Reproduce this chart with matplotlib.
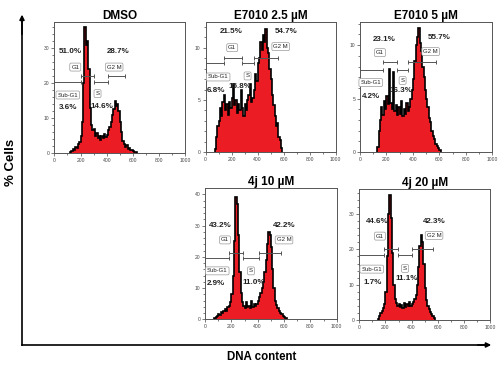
import matplotlib.pyplot as plt
import numpy as np
from matplotlib.ticker import MultipleLocator

plt.rcParams['font.family'] = ['Liberation Sans', 'DejaVu Sans']

bin_width = 10

# histogram counts per 10-channel bin, starting at the given channel
dmso_start = 120
dmso_counts = [0.3, 0.6, 1.2, 0.8, 1.8, 1.5, 2.6, 3.2, 5, 9, 20, 36, 31, 32, 24, 13,
               8, 6.5, 7, 5, 5.8, 4.2, 4.8, 3.8, 5, 4.4, 5.5, 4.6, 5.2, 6.5, 7.5, 9,
               11, 12.5, 15, 13.5, 14, 12, 9, 6, 3.5, 2.5, 1.8, 2.2, 1.2, 1.5, 0.8,
               0.9, 0.5, 0.3, 0.2]

e25_start = 70
e25_counts = [0.3, 1.5, 2.5, 3, 4.2, 3.5, 4.8, 5.5, 4, 4.6, 3.6, 4.8, 4.2, 5.2, 6.5,
              4.5, 5, 3.8, 4.6, 4, 6, 4.2, 3.5, 4.6, 4, 5, 5.5, 6.5, 4.8, 5.2, 6,
              7.5, 6.8, 8.5, 9, 10.5, 9.8, 11.2, 10.5, 11.8, 10, 9.5, 8, 7, 5.5,
              4.5, 3.5, 2.5, 2.8, 1.5, 1.2, 0.4]

e5_start = 130
e5_counts = [0.5, 2, 3, 4.2, 3.5, 4.8, 4, 5.2, 4.5, 7.8, 4.6, 4, 7.5, 3.8, 4.4, 3.5,
             4.2, 3.6, 4.8, 3.4, 4, 3.6, 4.6, 3.8, 4.2, 5, 5.8, 6.8, 8.5, 10, 10.8,
             11.6, 10.2, 9.5, 8, 7, 5.8, 5, 4.2, 3.2, 2.8, 2, 1.5, 1.2, 0.8, 0.6,
             0.4, 0.2]

j10_start = 70
j10_counts = [0.5, 0.8, 1.2, 1.8, 1.5, 2.4, 2, 2.8, 3.2, 2.6, 3.8, 4.2, 5.5, 8, 14,
              25, 39, 37, 27, 15, 8.5, 5.5, 4.2, 3.6, 5.5, 3.8, 4.4, 3.5, 5.8, 4,
              4.8, 4.2, 5, 6, 7, 8.5, 10, 12, 15, 19, 24, 28, 27, 23, 16, 10, 6,
              4.5, 3.5, 2.8, 2, 1.6, 1.2, 0.8, 0.4]

j20_start = 140
j20_counts = [0.3, 1, 1.8, 2.6, 3.2, 4.5, 8, 18, 30, 35.5, 29, 19, 10, 6, 4.8, 3.8,
              4.6, 3.5, 4.2, 3.2, 4.8, 3.6, 4.4, 3.8, 5, 4, 4.6, 5, 5.8, 7, 10, 15,
              21, 24, 22, 16, 9, 5.5, 4, 3, 2.2, 1.6, 1, 0.5]

titles = ['DMSO', 'E7010 2.5 \u00b5M', 'E7010 5 \u00b5M', '4j 10 \u00b5M', '4j 20 \u00b5M']
starts = [dmso_start, e25_start, e5_start, j10_start, j20_start]
counts = [dmso_counts, e25_counts, e5_counts, j10_counts, j20_counts]
ymaxs = [37.5, 12.45, 12.15, 41.9, 37.2]
ymajor = [10, 5, 5, 10, 10]
yminor = [2, 1, 1, 2, 2]

# gates: (sub-G1 end, G1 end, S end, G2M end), lower bar y, upper bar y
gate_edges = [[200, 300, 410, 540], [143, 277, 372, 559], [171, 282, 365, 572],
              [182, 291, 412, 577], [191, 298, 405, 561]]
gate_low = [20.3, 8.5, 7.7, 19.5, 18.4]
gate_high = [22.0, 9.0, 8.4, 21.3, 20.1]

# percentages per phase (Sub-G1, G1, S, G2M)
percents = [['3.6%', '51.0%', '14.6%', '28.7%'],
            ['6.8%', '21.5%', '15.8%', '54.7%'],
            ['4.2%', '23.1%', '16.3%', '55.7%'],
            ['2.9%', '43.2%', '11.0%', '42.2%'],
            ['1.7%', '44.6%', '11.1%', '42.3%']]
gate_names = ['Sub-G1', 'G1', 'S', 'G2 M']

# label positions (x, y) in data units: [subG1 box, G1 box, S box, G2M box]
box_pos = [[(103, 16.6), (160, 24.6), (330, 17.0), (457, 24.6)],
           [(97, 7.2), (205, 10.0), (323, 7.3), (577, 10.1)],
           [(81, 6.5), (151, 9.3), (322, 6.7), (534, 9.4)],
           [(93, 15.5), (152, 25.4), (349, 15.5), (600, 25.4)],
           [(95, 14.4), (158, 23.8), (350, 14.6), (572, 24.0)]]
pct_pos = [[(103, 12.9), (120, 29.0), (362, 13.2), (487, 29.0)],
           [(79, 5.95), (200, 11.5), (264, 6.3), (615, 11.5)],
           [(81, 5.2), (184, 10.5), (310, 5.8), (600, 10.7)],
           [(84, 11.3), (114, 29.9), (367, 11.8), (600, 29.9)],
           [(100, 10.5), (138, 27.9), (362, 11.8), (574, 27.9)]]

axes_rects = [[0.1086, 0.5865, 0.262, 0.354],
              [0.411, 0.5884, 0.2606, 0.352],
              [0.720, 0.589, 0.2646, 0.351],
              [0.410, 0.137, 0.2634, 0.354],
              [0.7186, 0.136, 0.2614, 0.353]]

fig = plt.figure(figsize=(5, 3.7), dpi=100)

for i in range(5):
    ax = fig.add_axes(axes_rects[i])
    vals = np.array(counts[i])
    edges = starts[i] + bin_width * np.arange(len(vals) + 1)
    ax.stairs(vals, edges, fill=True, color='#ec1c24', lw=0)
    ax.stairs(vals, edges, color='black', lw=1.2)

    ax.set_xlim(0, 1000)
    ax.set_ylim(0, ymaxs[i])
    ax.xaxis.set_major_locator(MultipleLocator(200))
    ax.xaxis.set_minor_locator(MultipleLocator(100))
    ax.yaxis.set_major_locator(MultipleLocator(ymajor[i]))
    ax.yaxis.set_minor_locator(MultipleLocator(yminor[i]))
    ax.tick_params(which='both', labelsize=3.6, colors='#444444', width=0.5, pad=1)
    ax.tick_params(which='major', length=2.5)
    ax.tick_params(which='minor', length=1.5)
    for sp in ax.spines.values():
        sp.set_color('#555555')
        sp.set_linewidth(0.7)
    ax.set_title(titles[i], fontsize=8.5, fontweight='bold', pad=2)

    # gate bars
    e = gate_edges[i]
    bars = [(0, e[0], gate_low[i]), (e[0], e[1], gate_high[i]),
            (e[1], e[2], gate_low[i]), (e[2], e[3], gate_high[i])]
    for x0, x1, y in bars:
        ax.plot([x0, x1], [y, y], color='#555555', lw=0.7, marker='|',
                markersize=3.5, markeredgewidth=0.7, clip_on=False)

    for k in range(4):
        bx, by = box_pos[i][k]
        ax.text(bx, by, gate_names[k], fontsize=4.3, ha='center', va='center',
                color='#222222',
                bbox=dict(boxstyle='round,pad=0.25', fc='white', ec='#999999', lw=0.5))
        px, py = pct_pos[i][k]
        ax.text(px, py, percents[i][k], fontsize=5.8, fontweight='bold',
                ha='center', va='center', color='#222222')

# big outer axes with arrows
ax_arrow = fig.add_axes([0, 0, 1, 1], facecolor='none')
ax_arrow.set_axis_off()
ax_arrow.set_xlim(0, 1)
ax_arrow.set_ylim(0, 1)
ax_arrow.plot([0.044, 0.044], [0.0676, 0.95], color='black', lw=1.2)
ax_arrow.plot([0.044, 0.975], [0.0676, 0.0676], color='black', lw=1.2)
ax_arrow.annotate('', xy=(0.044, 0.968), xytext=(0.044, 0.90),
                  arrowprops=dict(arrowstyle='-|>', color='black', lw=1.2,
                                  mutation_scale=7))
ax_arrow.annotate('', xy=(0.988, 0.0676), xytext=(0.95, 0.0676),
                  arrowprops=dict(arrowstyle='-|>', color='black', lw=1.2,
                                  mutation_scale=7))

fig.text(0.023, 0.56, '% Cells', rotation=90, fontsize=9.5, fontweight='bold',
         ha='center', va='center')
fig.text(0.524, 0.035, 'DNA content', fontsize=8.3, fontweight='bold',
         ha='center', va='center')

fig.savefig('out.png', dpi=100)
